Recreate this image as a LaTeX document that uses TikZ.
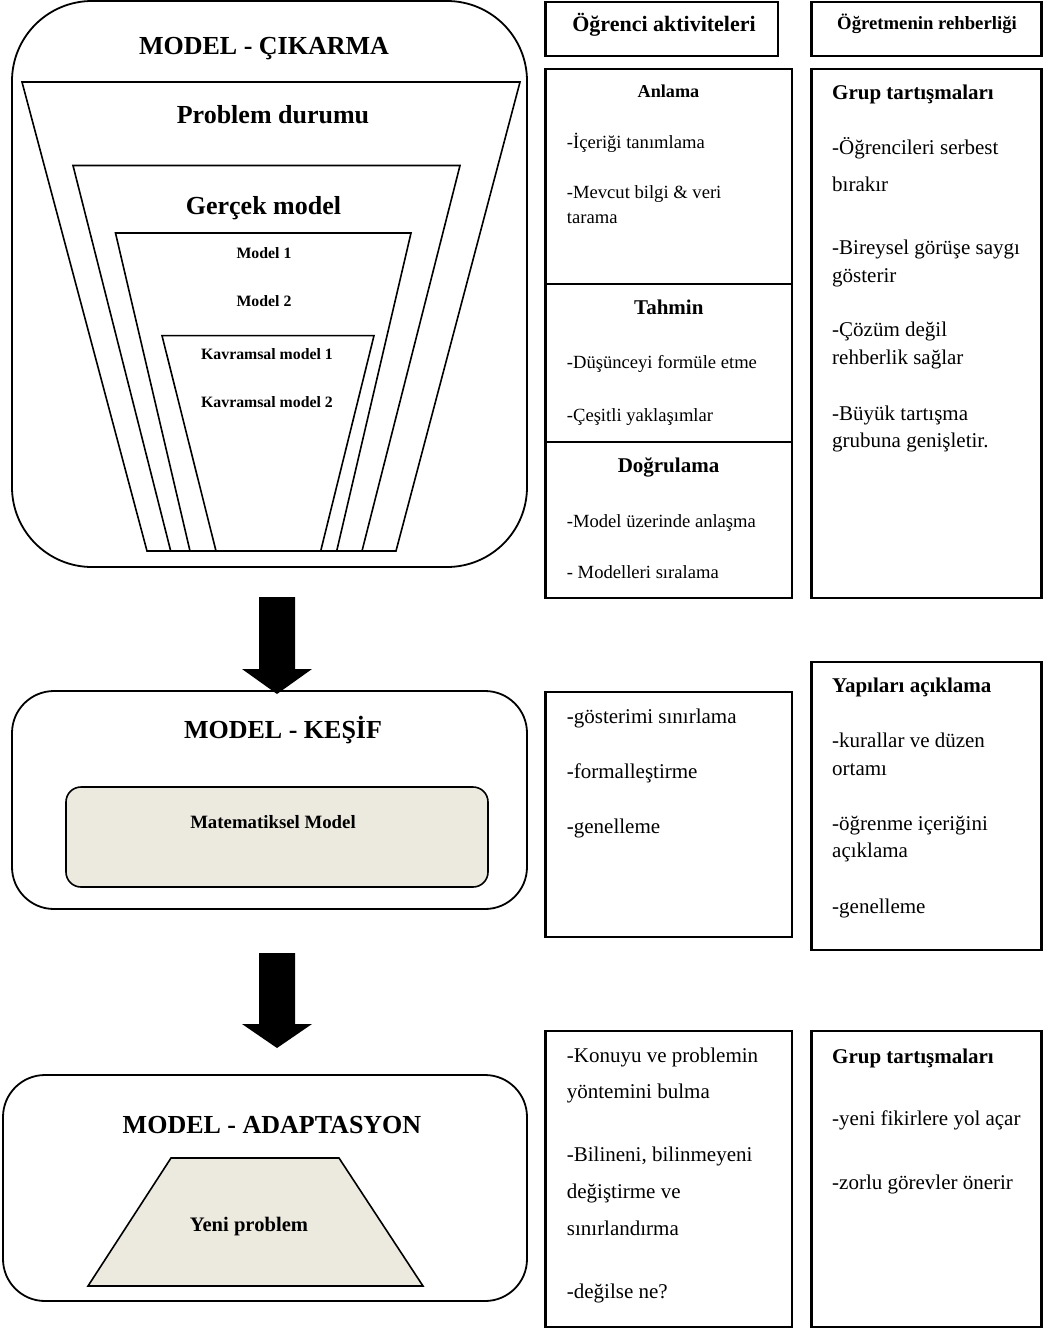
\documentclass[tikz,border=0pt]{standalone}
\usepackage{fontspec}
\setmainfont{Liberation Serif}
\definecolor{paleSand}{RGB}{236,233,223}
\begin{document}
\begin{tikzpicture}[x=1pt,y=-1pt,
  rbox/.style={draw, line width=1.8pt, inner sep=0pt, outer sep=0pt, anchor=north west},
  cbox/.style={draw, line width=2.2pt, inner sep=0pt, outer sep=0pt, anchor=north west},
  funnel/.style={draw, line width=1.6pt, line join=miter},
  bigtitle/.style={anchor=base, inner sep=0pt, font=\fontsize{26}{30}\selectfont\bfseries},
  midtitle/.style={anchor=base, inner sep=0pt, font=\fontsize{15.8}{19}\selectfont\bfseries},
  body/.style={anchor=base west, inner sep=0pt, font=\fontsize{21}{25}\selectfont},
  bodyhead/.style={anchor=base west, inner sep=0pt, font=\fontsize{21}{25}\selectfont\bfseries},
  smallbody/.style={anchor=base west, inner sep=0pt, font=\fontsize{18.6}{22}\selectfont},
  colhead/.style={anchor=base, inner sep=0pt, font=\fontsize{21}{25}\selectfont\bfseries},
  blockarrow/.style={fill=black}
]
\useasboundingbox (0,0) rectangle (1043,1331);

% ---------- stage boxes on the left ----------
\node[rbox, rounded corners=80pt, minimum width=515pt, minimum height=566pt] (stageA) at (12,1) {};
\node[rbox, rounded corners=42pt, minimum width=515pt, minimum height=218pt] (stageB) at (12,691) {};
\node[rbox, rounded corners=42pt, minimum width=524pt, minimum height=226pt] (stageC) at (3,1075) {};

\node[bigtitle] (tA) at (264,54.6) {MODEL - ÇIKARMA};
\node[bigtitle] (tB) at (283,738.6) {MODEL - KEŞİF};
\node[bigtitle] (tC) at (272,1133.6) {MODEL - ADAPTASYON};

% nested funnel of models
\draw[funnel] (22,82) -- (520,82) -- (396,551) -- (147,551) -- cycle;
\draw[funnel] (73,165.5) -- (460,165.5) -- (362,551) -- (170.7,551) -- cycle;
\draw[funnel] (115.5,233) -- (411,233) -- (336.7,551) -- (190,551) -- cycle;
\draw[funnel] (162,335.6) -- (374,335.6) -- (320.7,551) -- (216,551) -- cycle;

\node[bigtitle] (pd) at (273,123) {Problem durumu};
\node[bigtitle] (gm) at (263.5,214) {Gerçek model};
\node[midtitle] (m1) at (264,258.2) {Model 1};
\node[midtitle] (m2) at (264,306.7) {Model 2};
\node[midtitle] (k1) at (267,359.2) {Kavramsal model 1};
\node[midtitle] (k2) at (267,407.2) {Kavramsal model 2};

% mathematical model panel
\node[draw, line width=1.6pt, rounded corners=15pt, fill=paleSand, inner sep=0pt, outer sep=0pt,
      anchor=north west, minimum width=422pt, minimum height=100pt] (mm) at (66,787) {};
\node[anchor=base, inner sep=0pt, font=\fontsize{18.8}{22}\selectfont\bfseries] (mmt) at (273,828.5) {Matematiksel Model};

% new problem trapezoid
\draw[line width=1.6pt, fill=paleSand, line join=miter] (171,1158) -- (339,1158) -- (423,1286) -- (88,1286) -- cycle;
\node[anchor=base, inner sep=0pt, font=\fontsize{20.6}{24}\selectfont\bfseries] (yp) at (249,1231) {Yeni problem};

% ---------- block arrows between the stages ----------
\coordinate (arrA) at (277,597);
\coordinate (arrB) at (277,953);
\fill[blockarrow] (arrA) ++(-18,0) -- ++(36,0) -- ++(0,72) -- ++(17,0) -- ++(-35,25) -- ++(-35,-25) -- ++(17,0) -- cycle;
\fill[blockarrow] (arrB) ++(-18,0) -- ++(36,0) -- ++(0,71) -- ++(17,0) -- ++(-35,24) -- ++(-35,-24) -- ++(17,0) -- cycle;

% ---------- column headers ----------
\node[cbox, minimum width=232.5pt, minimum height=54pt] (h1) at (545.5,2) {};
\node[cbox, minimum width=230pt, minimum height=54pt] (h2) at (811.5,2) {};
\node[anchor=base, inner sep=0pt, font=\fontsize{22}{26}\selectfont\bfseries] (h1t) at (664,31.5) {Öğrenci aktiviteleri};
\node[anchor=base, inner sep=0pt, font=\fontsize{18.7}{22}\selectfont\bfseries] (h2t) at (927,29) {Öğretmenin rehberliği};

% ---------- student activities, first stage ----------
\node[cbox, minimum width=246.5pt, minimum height=529.3pt] (s1) at (545.5,68.7) {};
\draw[line width=2.2pt] (s1.west |- 0,283.6) -- (s1.east |- 0,283.6);
\draw[line width=2.2pt] (s1.west |- 0,441.6) -- (s1.east |- 0,441.6);

\node[anchor=base, inner sep=0pt, font=\fontsize{18.2}{22}\selectfont\bfseries] (s1a) at (668.5,97) {Anlama};
\node[smallbody] (s1b) at (566.7,148) {-İçeriği tanımlama};
\node[smallbody] (s1c) at (566.7,198.7) {-Mevcut bilgi \& veri};
\node[smallbody] (s1d) at (566.7,223.6) {tarama};
\node[colhead] (s1e) at (668.8,314) {Tahmin};
\node[smallbody] (s1f) at (566.7,368.6) {-Düşünceyi formüle etme};
\node[smallbody] (s1g) at (566.7,421) {-Çeşitli yaklaşımlar};
\node[colhead] (s1h) at (668.5,472) {Doğrulama};
\node[smallbody] (s1i) at (566.7,527) {-Model üzerinde anlaşma};
\node[smallbody] (s1j) at (566.7,578.5) {- Modelleri sıralama};

% ---------- teacher guidance, first stage ----------
\node[cbox, minimum width=230pt, minimum height=529.3pt] (g1) at (811.5,68.7) {};
\node[bodyhead] (g1a) at (832,99) {Grup tartışmaları};
\node[body] (g1b) at (832,154) {-Öğrencileri serbest};
\node[body] (g1c) at (832,191) {bırakır};
\node[body] (g1d) at (832,254) {-Bireysel görüşe saygı};
\node[body] (g1e) at (832,282) {gösterir};
\node[body] (g1f) at (832,336) {-Çözüm değil};
\node[body] (g1g) at (832,364.6) {rehberlik sağlar};
\node[body] (g1h) at (832,420) {-Büyük tartışma};
\node[body] (g1i) at (832,447) {grubuna genişletir.};

% ---------- second stage ----------
\node[cbox, minimum width=246.5pt, minimum height=245pt] (s2) at (545.5,692) {};
\node[body] (s2a) at (566.7,723.5) {-gösterimi sınırlama};
\node[body] (s2b) at (566.7,778.5) {-formalleştirme};
\node[body] (s2c) at (566.7,833.5) {-genelleme};

\node[cbox, minimum width=230pt, minimum height=288.3pt] (g2) at (811.5,661.7) {};
\node[bodyhead] (g2a) at (832,692) {Yapıları açıklama};
\node[body] (g2b) at (832,747.5) {-kurallar ve düzen};
\node[body] (g2c) at (832,775) {ortamı};
\node[body] (g2d) at (832,830) {-öğrenme içeriğini};
\node[body] (g2e) at (832,857.5) {açıklama};
\node[body] (g2f) at (832,913.5) {-genelleme};

% ---------- third stage ----------
\node[cbox, minimum width=246.5pt, minimum height=295.7pt] (s3) at (545.5,1031) {};
\node[body] (s3a) at (566.7,1062) {-Konuyu ve problemin};
\node[body] (s3b) at (566.7,1098.5) {yöntemini bulma};
\node[body] (s3c) at (566.7,1161) {-Bilineni, bilinmeyeni};
\node[body] (s3d) at (566.7,1198) {değiştirme ve};
\node[body] (s3e) at (566.7,1235) {sınırlandırma};
\node[body] (s3f) at (566.7,1298.5) {-değilse ne?};

\node[cbox, minimum width=230pt, minimum height=295.7pt] (g3) at (811.5,1031) {};
\node[bodyhead] (g3a) at (832,1063) {Grup tartışmaları};
\node[body] (g3b) at (832,1125) {-yeni fikirlere yol açar};
\node[body] (g3c) at (832,1189.5) {-zorlu görevler önerir};
\end{tikzpicture}
\end{document}
